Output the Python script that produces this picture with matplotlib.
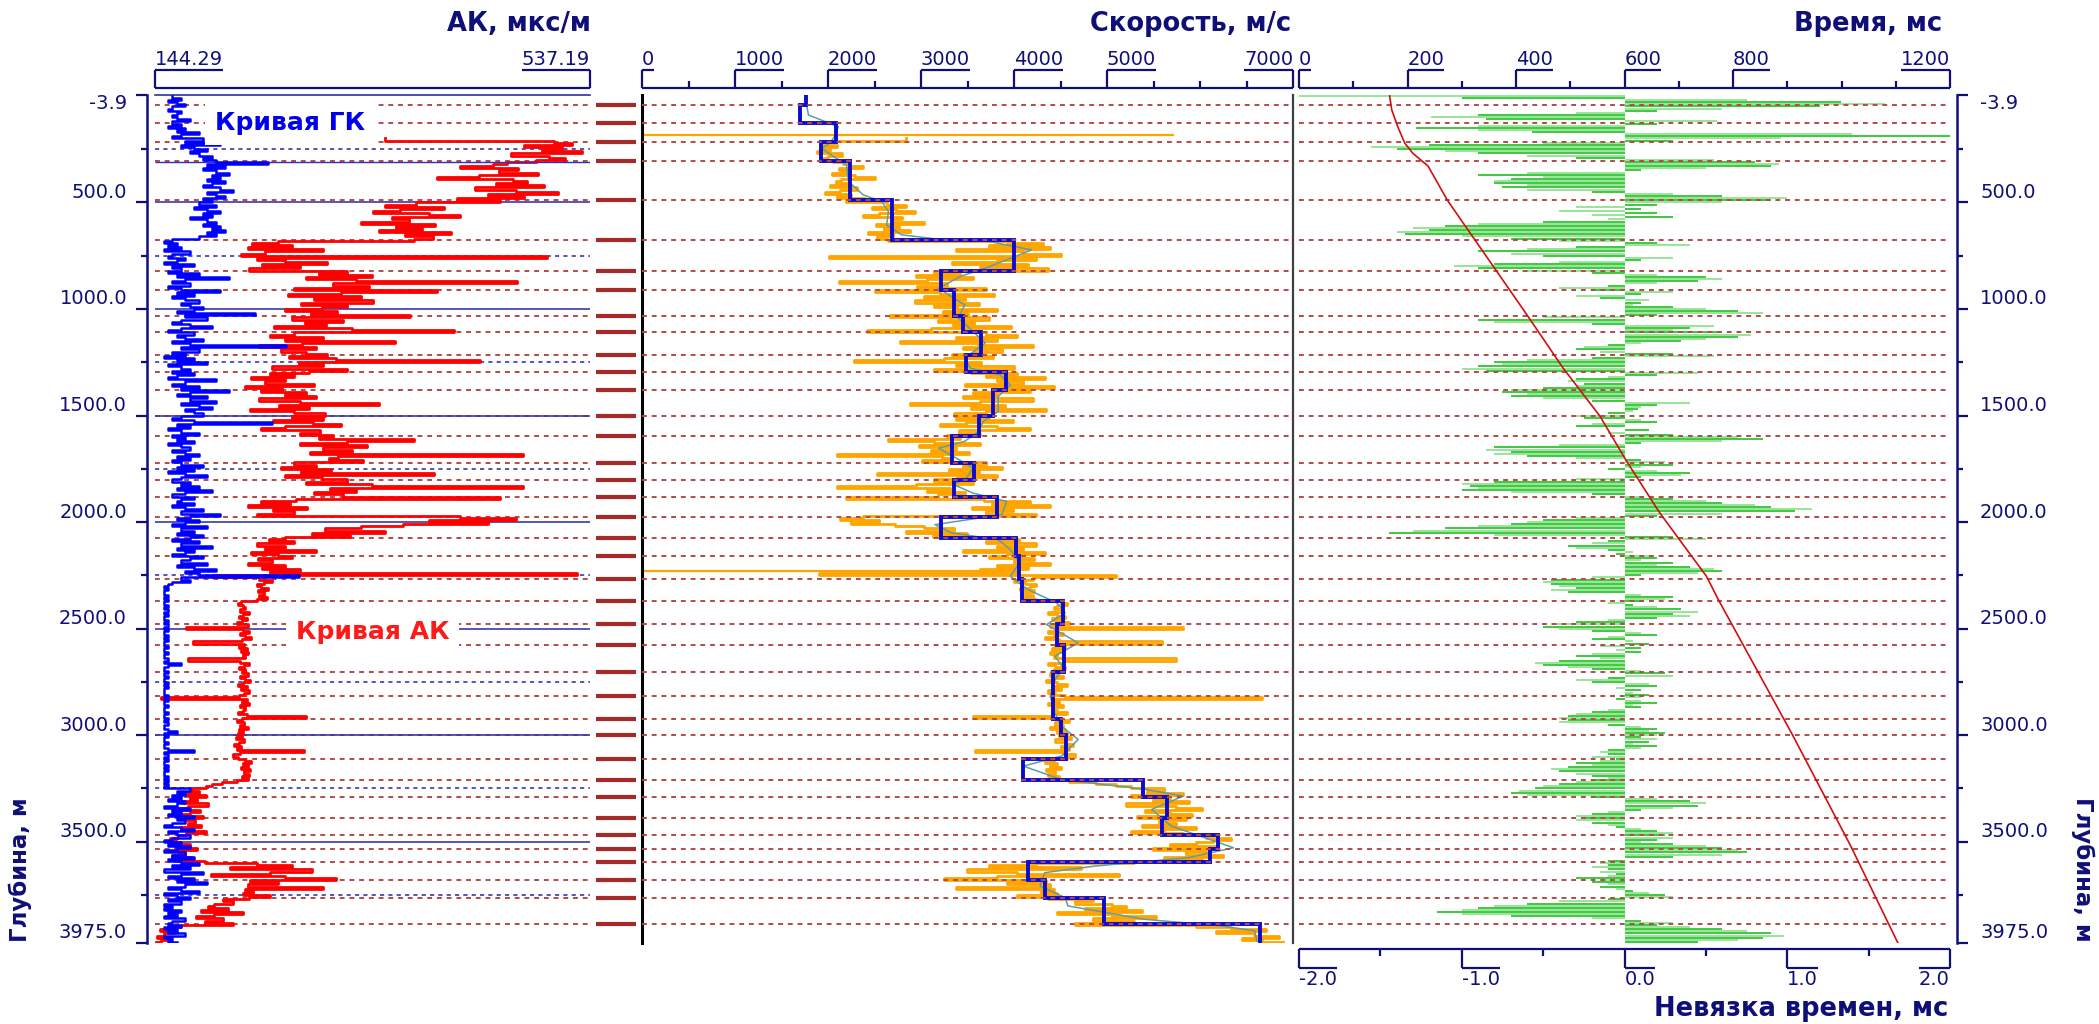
import numpy as np
import matplotlib
matplotlib.use("Agg")
import matplotlib.pyplot as plt
from matplotlib import transforms

plt.rcParams["font.family"] = ["DejaVu Sans"]

W, H = 2099, 1024
NAVY = "#0f0f78"
TOP_DEPTH, BOTTOM_DEPTH = -3.9, 3975.0

# formation tops, m
tops = [43, 129, 218, 306, 488, 676, 820, 909, 1031, 1110,
        1216, 1297, 1382, 1504, 1595, 1723, 1801, 1884, 1975, 2075,
        2157, 2265, 2368, 2476, 2575, 2703, 2814, 2926, 2998, 3110,
        3211, 3290, 3387, 3470, 3536, 3595, 3680, 3765, 3887]

# interval velocity of each layer between the tops, m/s
layer_velocity = [1760, 1700, 2090, 1930, 2240, 2690, 4000, 3215, 3350, 3450,
                  3645, 3480, 3915, 3770, 3620, 3330, 3575, 3350, 3815, 3215,
                  4020, 4050, 4090, 4530, 4460, 4540, 4420, 4420, 4510, 4560,
                  4100, 5390, 5650, 5590, 6190, 6110, 4150, 4330, 4970, 6640]

# smoothed velocity curve
smooth_depth = [43, 90, 121, 145, 184, 223, 246, 285, 324, 402,
                465, 496, 543, 606, 652, 671, 684, 723, 754, 801,
                848, 903, 949, 981, 1043, 1106, 1160, 1231, 1278, 1309,
                1356, 1411, 1481, 1528, 1575, 1621, 1653, 1700, 1746, 1793,
                1824, 1864, 1903, 1965, 2012, 2051, 2082, 2129, 2192, 2254,
                2317, 2379, 2426, 2481, 2567, 2629, 2684, 2739, 2817, 2895,
                2958, 3020, 3098, 3145, 3208, 3254, 3286, 3348, 3426, 3481,
                3528, 3575, 3614, 3645, 3708, 3762, 3801, 3864, 3895, 3918, 3965]
smooth_velocity = [1770, 1790, 1970, 2110, 2080, 2020, 1930, 2060, 2200, 2220,
                   2380, 2580, 2650, 2630, 2790, 3150, 3740, 4190, 4010, 3740,
                   3420, 3190, 3350, 3470, 3400, 3560, 3690, 3470, 3530, 3850,
                   3960, 3830, 3830, 3670, 3620, 3470, 3190, 3380, 3560, 3490,
                   3350, 3560, 3920, 3870, 3150, 3330, 3830, 3960, 4060, 3960,
                   4150, 4460, 4550, 4350, 4690, 4440, 4530, 4440, 4390, 4440,
                   4510, 4690, 4510, 4100, 4510, 5410, 5820, 5480, 5690, 6050,
                   6360, 5870, 4870, 4330, 4280, 4550, 4580, 5410, 6230, 6590, 6610]

# logs sampled every 10 m
STEP = 10.0

# gamma log, % of track width, from 0 m
gk_start = 0.0
gk = [4, 6, 3, 5, 7, 4, 3, 6, 5, 4,
      5, 8, 4, 6, 3, 7, 5, 10, 6, 4,
      11, 7, 15, 6, 9, 12, 8, 10, 13, 11,
      14, 26, 12, 16, 11, 14, 17, 13, 15, 12,
      16, 13, 11, 15, 18, 12, 14, 16, 11, 13,
      10, 14, 9, 12, 15, 11, 13, 8, 12, 14,
      11, 15, 13, 16, 12, 14, 10, 4, 2, 5,
      3, 6, 2, 8, 4, 3, 7, 5, 2, 9,
      4, 6, 3, 10, 5, 17, 7, 4, 8, 3,
      6, 15, 5, 9, 4, 7, 10, 6, 8, 11,
      9, 5, 23, 7, 12, 6, 4, 8, 13, 6,
      3, 9, 5, 7, 11, 4, 8, 30, 6, 10,
      4, 7, 2, 9, 5, 12, 3, 6, 8, 4,
      9, 5, 3, 14, 7, 4, 10, 6, 17, 8,
      5, 12, 8, 14, 6, 10, 13, 7, 9, 11,
      6, 4, 9, 27, 5, 8, 3, 6, 10, 4,
      7, 5, 9, 3, 6, 8, 4, 7, 10, 5,
      8, 4, 6, 11, 5, 9, 3, 7, 12, 6,
      4, 8, 6, 10, 5, 13, 7, 4, 9, 6,
      5, 9, 4, 7, 11, 6, 15, 8, 5, 10,
      7, 4, 12, 6, 9, 5, 11, 8, 4, 10,
      6, 13, 5, 9, 7, 4, 11, 8, 6, 12,
      5, 9, 14, 7, 10, 33, 6, 8, 4, 3,
      2, 3, 2, 2, 3, 2, 3, 2, 2, 3,
      2, 3, 2, 3, 2, 2, 3, 2, 3, 2,
      3, 2, 2, 3, 2, 3, 2, 2, 3, 2,
      2, 3, 2, 2, 3, 2, 6, 3, 2, 2,
      3, 2, 3, 2, 2, 3, 2, 3, 2, 2,
      2, 3, 2, 3, 2, 2, 3, 2, 2, 3,
      2, 2, 3, 2, 3, 2, 2, 3, 5, 2,
      3, 2, 2, 3, 2, 2, 3, 9, 2, 3,
      2, 3, 2, 2, 3, 2, 3, 2, 2, 3,
      2, 3, 2, 3, 2, 8, 5, 7, 4, 6,
      3, 7, 5, 2, 8, 4, 6, 3, 9, 5,
      7, 4, 2, 6, 9, 3, 5, 8, 4, 2,
      6, 3, 8, 5, 2, 7, 4, 9, 3, 6,
      10, 4, 8, 2, 11, 6, 3, 9, 5, 12,
      7, 3, 6, 10, 2, 5, 8, 3, 6, 2,
      4, 2, 6, 3, 5, 2, 7, 4, 3, 6,
      2, 5, 3, 7, 2, 4, 3, 5]

# sonic log, mks/m, from 200 m
ak_start = 200.0
ak = [352, 505, 521, 478, 512, 494, 530, 466, 500, 515,
      488, 462, 450, 420, 472, 455, 490, 437, 399, 468,
      480, 452, 496, 433, 470, 508, 445, 478, 417, 456,
      380, 352, 405, 366, 341, 392, 420, 358, 374, 330,
      397, 362, 385, 347, 412, 370, 395, 378, 255, 232,
      268, 228, 296, 244, 222, 498, 236, 262, 300, 241,
      275, 229, 318, 292, 340, 281, 326, 471, 305, 338,
      270, 399, 312, 264, 330, 288, 341, 276, 318, 295,
      262, 309, 285, 375, 268, 314, 280, 299, 252, 322,
      414, 270, 248, 296, 262, 361, 277, 238, 290, 258,
      281, 300, 265, 308, 438, 274, 296, 250, 318, 283,
      248, 270, 231, 262, 244, 288, 226, 259, 240, 281,
      262, 290, 238, 275, 347, 256, 283, 230, 270, 298,
      268, 296, 251, 287, 312, 262, 240, 293, 275, 305,
      292, 378, 318, 275, 336, 296, 322, 284, 477, 310,
      301, 332, 270, 290, 258, 303, 276, 396, 262, 295,
      318, 281, 340, 477, 302, 326, 288, 314, 456, 272,
      240, 266, 228, 282, 251, 270, 236, 420, 470, 392,
      445, 368, 330, 298, 352, 286, 320, 262, 247, 270,
      236, 262, 244, 290, 231, 255, 268, 237, 250, 228,
      262, 241, 275, 248, 525, 196, 238, 250, 243, 236,
      240, 246, 237, 243, 238, 245, 236, 222, 219, 224,
      226, 221, 229, 224, 220, 227, 223, 218, 228, 172,
      224, 229, 221, 226, 231, 223, 179, 225, 220, 227,
      222, 228, 224, 226, 174, 221, 229, 225, 220, 226,
      223, 228, 221, 226, 230, 224, 219, 227, 222, 229,
      225, 220, 150, 227, 223, 229, 221, 226, 224, 219,
      227, 281, 223, 218, 225, 221, 228, 220, 224, 219,
      223, 217, 225, 220, 216, 222, 218, 279, 221, 215,
      219, 226, 231, 224, 228, 222, 230, 225, 229, 223,
      228, 218, 205, 196, 190, 178, 184, 172, 190, 176,
      182, 170, 192, 174, 166, 185, 176, 169, 188, 171,
      180, 174, 186, 168, 178, 190, 172, 165, 158, 163,
      168, 176, 162, 182, 165, 171, 160, 178, 166, 189,
      236, 268, 212, 286, 248, 195, 262, 308, 230, 255,
      228, 296, 226, 233, 224, 248, 229, 206, 215, 198,
      192, 210, 186, 224, 198, 181, 206, 189, 215, 168,
      158, 149, 162, 152, 146, 155, 150, 145]

# time misfit, ms, from 0 m
mistie_start = 0.0
mistie = [-2.0, -1.0, 0.75, 1.33, 1.6, 1.2, 0.6, 0.2, -0.3, -0.9,
          -1.19, -0.85, 0.57, 0.2, -0.9, -1.28, -0.9, -0.57, 1.4, 2.0,
          0.96, 0.3, -0.5, -1.2, -1.56, -1.4, -1.1, -0.9, -0.6, -0.3,
          0.55, 0.8, 0.95, 0.9, 0.5, 0.1, -0.6, -0.9, -0.5, -0.7,
          -0.8, -0.8, -0.6, -0.75, -0.6, -0.2, 0.3, 0.6, 1.0, 0.9,
          0.6, 0.2, -0.3, 0.1, -0.4, 0.2, -0.2, 0.3, -0.1, -0.5,
          -0.9, -1.1, -1.3, -1.2, -1.4, -1.35, -1.0, -0.7, -0.4, 0.2,
          0.4, -0.3, -0.6, -0.9, -0.7, -0.5, 0.3, 0.1, -0.4, -0.8,
          -1.05, -0.9, -0.6, -0.2, 0.2, 0.5, 0.6, 0.45, 0.2, -0.1,
          -0.4, -0.2, 0.3, 0.1, -0.3, -0.15, 0.15, 0.1, 0.05, 0.3,
          0.5, 0.7, 0.85, 0.2, -0.5, -0.9, -0.8, -0.2, 0.55, 0.4,
          0.3, 0.6, 0.78, 0.7, 0.5, 0.35, 0.1, -0.1, -0.25, -0.3,
          -0.15, 0.3, 0.55, -0.2, -0.6, -0.8, -0.75, -0.9, -1.0, -0.85,
          0.45, 0.2, -0.1, -0.3, -0.35, -0.25, -0.3, -0.5, -0.7, -0.75,
          -0.6, -0.7, -0.5, -0.2, 0.4, 0.2, 0.1, 0.08, 0.05, -0.1,
          -0.3, -0.25, 0.1, 0.2, -0.2, -0.3, 0.0, 0.15, -0.1, 0.3,
          0.7, 0.85, 0.6, 0.1, -0.4, -0.8, -0.85, -0.7, -0.8, -0.6,
          -0.3, 0.1, 0.25, 0.3, 0.1, -0.1, 0.2, 0.4, 0.35, 0.1,
          -0.3, -0.8, -1.0, -0.95, -0.9, -1.0, -0.7, -0.2, 0.1, 0.3,
          0.5, 0.6, 0.8, 0.9, 1.15, 1.05, 0.6, 0.2, -0.3, -0.5,
          -0.6, -0.7, -0.9, -1.1, -1.3, -1.45, -0.8, 0.3, 0.5, -0.1,
          -0.2, -0.35, -0.3, -0.1, 0.05, -0.05, 0.15, 0.2, 0.1, 0.3,
          0.2, 0.4, 0.55, 0.6, 0.45, 0.1, -0.2, -0.45, -0.5, -0.45,
          -0.4, -0.3, -0.45, -0.35, 0.1, 0.3, 0.25, 0.1, -0.1, 0.05,
          0.2, 0.35, 0.45, 0.3, 0.4, 0.2, -0.1, -0.3, -0.45, -0.5,
          -0.4, -0.2, 0.1, 0.2, -0.1, -0.2, 0.05, 0.15, -0.15, 0.1,
          -0.05, 0.1, -0.2, -0.3, -0.15, -0.4, -0.55, -0.5, -0.35, -0.2,
          0.1, 0.25, 0.3, -0.1, -0.3, -0.2, 0.15, 0.2, -0.05, 0.1,
          0.05, 0.15, 0.1, -0.05, 0.1, 0.2, 0.05, 0.1, -0.1, -0.2,
          -0.3, -0.35, -0.4, -0.35, -0.4, -0.1, 0.1, 0.2, 0.15, 0.25,
          0.2, 0.1, 0.2, 0.15, 0.05, 0.2, 0.1, -0.1, -0.15, -0.1,
          -0.2, -0.05, -0.15, -0.3, -0.2, -0.35, -0.45, -0.4, -0.3, -0.2,
          -0.1, -0.2, -0.3, -0.4, -0.5, -0.55, -0.65, -0.7, -0.6, -0.2,
          0.2, 0.4, 0.5, 0.45, 0.3, 0.1, -0.1, -0.2, -0.3, -0.25,
          -0.3, -0.2, -0.1, -0.05, 0.1, 0.2, 0.3, 0.25, 0.3, 0.2,
          0.1, 0.3, 0.5, 0.6, 0.7, 0.75, 0.6, 0.3, 0.0, -0.1,
          -0.15, -0.1, -0.2, -0.1, -0.15, -0.05, -0.1, -0.3, -0.15, -0.2,
          -0.1, -0.15, -0.05, 0.05, 0.15, 0.25, 0.3, -0.1, -0.4, -0.6,
          -0.8, -0.9, -1.0, -1.15, -1.0, -0.7, -0.2, 0.1, 0.3, 0.2,
          0.4, 0.6, 0.75, 0.9, 0.98, 0.85, 0.7, 0.45]

# bad sonic samples that drop to zero velocity
vel_spike_depth = [184, 2231]
vel_spike_value = [5720, 4006]
gk_spike_depth = [312]

# time-depth curve
time_depth = [0, 66, 145, 222, 270, 330, 488, 1027, 1278, 1504,
              1715, 1957, 2254, 2364, 3000, 3520, 3975]
time_ms = [167, 171, 182, 195, 210, 238, 273, 420, 487, 555,
           604, 665, 751, 773, 910, 1017, 1104]

ak_scale = (144.29, 537.19)
vel_scale = (0, 7000)
time_scale = (0, 1200)
mistie_scale = (-2.0, 2.0)

TOP_LINE = "#b34a4a"
DASH = (0, (2.5, 2.5))


def px_axes(fig, x0, x1, y0, y1):
    ax = fig.add_axes([x0 / W, 1 - y1 / H, (x1 - x0) / W, (y1 - y0) / H])
    ax.patch.set_alpha(0)
    return ax


def log_track(fig, x0, x1):
    ax = px_axes(fig, x0, x1, 95, 943)
    ax.set_ylim(BOTTOM_DEPTH, TOP_DEPTH)
    ax.set_xticks([])
    ax.set_yticks([])
    for s in ax.spines.values():
        s.set_visible(False)
    return ax


def twin_track(ax, lim):
    tw = ax.twiny()
    tw.set_xlim(*lim)
    tw.set_xticks([])
    for s in tw.spines.values():
        s.set_visible(False)
    tw.patch.set_alpha(0)
    return tw


def scale_bar(fig, x0, x1, y0, y1, lim, majors, minors, labels, fmt, flip=False):
    ax = px_axes(fig, x0, x1, y0, y1)
    ax.set_xlim(*lim)
    ax.set_ylim(0, 1)
    ax.axis("off")
    base, far = (1, 0) if flip else (0, 1)
    kw = dict(color=NAVY, lw=1.6, clip_on=False)
    ax.plot(lim, [base, base], solid_capstyle="butt", **kw)
    ax.vlines(majors, 0, 1, **kw)
    if flip:
        ax.vlines(minors, 0.63, 1, **kw)
    else:
        ax.vlines(minors, 0, 0.37, **kw)
    renderer = fig.canvas.get_renderer()
    for v in labels:
        ha = "right" if v == lim[1] else "left"
        y, va = (-0.12, "top") if flip else (1.28, "baseline")
        t = ax.text(v, y, fmt(v), ha=ha, va=va, fontsize=14, color=NAVY)
        bb = t.get_window_extent(renderer)
        xa, xb = ax.transData.inverted().transform([[bb.x0, 0], [bb.x1, 0]])[:, 0]
        ax.plot([xa, xb], [far, far], solid_capstyle="butt", **kw)
    return ax


def depths(start, values):
    return start + STEP * np.arange(len(values))


fig = plt.figure(figsize=(W / 100, H / 100), dpi=100, facecolor="white")

# ---- depth scale on both sides ----
axd = px_axes(fig, 147, 1957, 95, 943)
axd.set_xlim(0, 1)
axd.set_ylim(BOTTOM_DEPTH, TOP_DEPTH)
axd.set_xticks([])
for side in ("top", "bottom"):
    axd.spines[side].set_visible(False)
for side in ("left", "right"):
    axd.spines[side].set_color(NAVY)
    axd.spines[side].set_linewidth(1.8)
major_depths = [TOP_DEPTH, 500, 1000, 1500, 2000, 2500, 3000, 3500, BOTTOM_DEPTH]
minor_depths = [250, 750, 1250, 1750, 2250, 2750, 3250, 3750]
axd.set_yticks(major_depths)
axd.set_yticks(minor_depths, minor=True)
axd.tick_params(axis="y", which="major", length=8, width=1.6, color=NAVY,
                left=True, right=True, labelleft=False, labelright=False)
axd.tick_params(axis="y", which="minor", length=4, width=1.6, color=NAVY,
                left=True, right=True)
for d in major_depths:
    shift = -8 if d == TOP_DEPTH else (11 if d == BOTTOM_DEPTH else 10)
    for xa, dx, ha in ((0, -20, "right"), (1, 23, "left")):
        tr = transforms.offset_copy(axd.get_yaxis_transform(), fig=fig,
                                    x=dx, y=shift, units="dots")
        axd.text(xa, d, f"{d:.1f}", transform=tr, ha=ha, va="center",
                 fontsize=14, color=NAVY)

fig.text(20 / W, 1 - 942 / H, "Глубина, м", rotation=90, ha="center", va="bottom",
         fontsize=16.5, fontweight="bold", color=NAVY)
fig.text(2083 / W, 1 - 942 / H, "Глубина, м", rotation=270, ha="center", va="bottom",
         fontsize=16.5, fontweight="bold", color=NAVY)

# ---- track 1: gamma + sonic ----
ax1 = log_track(fig, 155, 590)
ax1.set_xlim(*ak_scale)
ax1.spines["top"].set_visible(True)
ax1.spines["top"].set_color("#3030a0")
ax1.spines["top"].set_linewidth(1.2)
for d in tops:
    ax1.axhline(d, color=TOP_LINE, lw=1.4, ls=DASH, zorder=1)
for d in major_depths[1:-1]:
    ax1.axhline(d, color="#3a3aa8", lw=1.2, zorder=1.5)
for d in minor_depths:
    ax1.axhline(d, color="#3a3aa8", lw=1.2, ls=DASH, zorder=1.5)
ax1.plot(ak, depths(ak_start, ak), color="#ff0000", lw=2.0,
         drawstyle="steps-pre", zorder=2)
ax1g = twin_track(ax1, (0, 100))
ax1g.hlines(gk_spike_depth, 0, 100, color="#3030c0", lw=1.0, zorder=3)
ax1g.plot(gk, depths(gk_start, gk), color="#0000ff", lw=1.8,
          drawstyle="steps-pre", zorder=3)
ax1g.text(0.31, 0.967, "Кривая ГК", transform=ax1g.transAxes, ha="center",
          va="center", fontsize=18, fontweight="bold", color="#0000ee", zorder=10,
          bbox=dict(facecolor="white", edgecolor="none", pad=7))
ax1g.text(0.50, 0.367, "Кривая АК", transform=ax1g.transAxes, ha="center",
          va="center", fontsize=18, fontweight="bold", color="#ff1a1a", zorder=10,
          bbox=dict(facecolor="white", edgecolor="none", pad=7))

# formation-top markers between the tracks
axm = log_track(fig, 596, 636)
axm.set_xlim(0, 1)
axm.hlines(tops, 0, 1, color="#a52a2a", lw=3)

# ---- track 2: velocities ----
ax2 = log_track(fig, 642, 1293)
ax2.set_xlim(*vel_scale)
ax2.spines["left"].set_visible(True)
ax2.spines["left"].set_color("black")
ax2.spines["left"].set_linewidth(2.2)
ax2.spines["right"].set_visible(True)
ax2.spines["right"].set_color("#404040")
ax2.spines["right"].set_linewidth(1.6)
velocity = 1e6 / np.asarray(ak, dtype=float)
ax2.plot(velocity, depths(ak_start, ak), color="#ffa500", lw=2.0,
         drawstyle="steps-pre", zorder=2)
ax2.hlines(vel_spike_depth, 0, vel_spike_value, color="#ffa500", lw=1.6, zorder=2)
for d in tops:
    ax2.axhline(d, color=TOP_LINE, lw=1.4, ls=DASH, zorder=5)
ax2.plot(smooth_velocity, smooth_depth, color="#5b9ea6", lw=1.1, zorder=3)
ax2.stairs(layer_velocity, [TOP_DEPTH] + tops + [BOTTOM_DEPTH],
           orientation="horizontal", baseline=None, color="#0a0ad0", lw=2.8, zorder=4)

# ---- track 3: misfit + time ----
ax3 = log_track(fig, 1299, 1950)
ax3.set_xlim(*mistie_scale)
md = depths(mistie_start, mistie)
shade = ["#2fc42f" if i % 2 else "#8fe38f" for i in range(len(mistie))]
ax3.hlines(md, 0, mistie, colors=shade, lw=1.3, zorder=2)
for d in tops:
    ax3.axhline(d, color=TOP_LINE, lw=1.4, ls=DASH, zorder=5)
ax3t = twin_track(ax3, time_scale)
ax3t.plot(time_ms, time_depth, color="#d01010", lw=1.2, zorder=6)

# ---- scale headers ----
scale_bar(fig, 155, 590, 70, 88, ak_scale, list(ak_scale), [], list(ak_scale),
          lambda v: f"{v:.2f}")
vel_major = [0, 1000, 2000, 3000, 4000, 5000, 7000]
scale_bar(fig, 642, 1293, 70, 88, vel_scale, vel_major,
          [500, 1500, 2500, 3500, 4500, 5500, 6000, 6500], vel_major,
          lambda v: f"{v:.0f}")
time_major = [0, 200, 400, 600, 800, 1200]
scale_bar(fig, 1299, 1950, 70, 88, time_scale, time_major,
          [100, 300, 500, 700, 900, 1000, 1100], time_major,
          lambda v: f"{v:.0f}")
mis_major = [-2.0, -1.0, 0.0, 1.0, 2.0]
scale_bar(fig, 1299, 1950, 949, 968, mistie_scale, mis_major,
          [-1.5, -0.5, 0.5, 1.5], mis_major, lambda v: f"{v:.1f}", flip=True)

title_kw = dict(ha="right", va="baseline", fontsize=18.5, fontweight="bold", color=NAVY)
fig.text(591 / W, 1 - 31 / H, "АК, мкс/м", **title_kw)
fig.text(1291 / W, 1 - 31 / H, "Скорость, м/с", **title_kw)
fig.text(1942 / W, 1 - 31 / H, "Время, мс", **title_kw)
fig.text(1948 / W, 1 - 1016 / H, "Невязка времен, мс", **title_kw)

fig.savefig("out.png", dpi=100, facecolor="white")
